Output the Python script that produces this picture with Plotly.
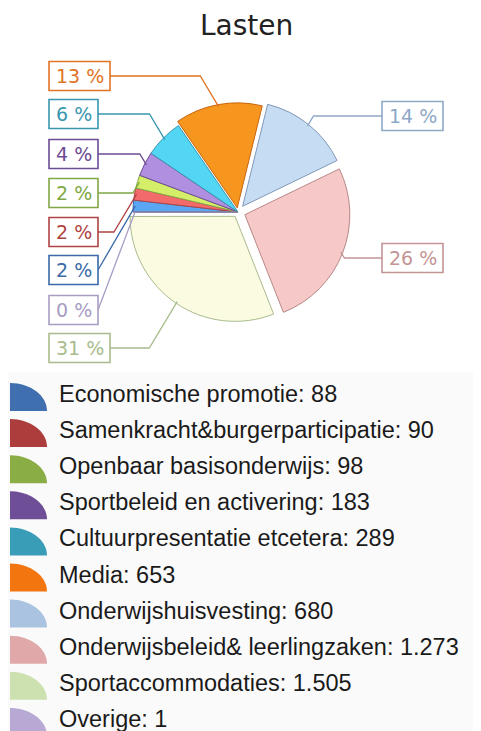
import math
import plotly.graph_objects as go

# ---------------- data ----------------
categories = [
    "Economische promotie",
    "Samenkracht&burgerparticipatie",
    "Openbaar basisonderwijs",
    "Sportbeleid en activering",
    "Cultuurpresentatie etcetera",
    "Media",
    "Onderwijshuisvesting",
    "Onderwijsbeleid& leerlingzaken",
    "Sportaccommodaties",
    "Overige",
]
values = [88, 90, 98, 183, 289, 653, 680, 1273, 1505, 1]

# ---------------- styles ----------------
slice_colors = ["#5aa6f2", "#f26a6a", "#d4ee6a", "#b08ee0", "#52d6f4",
                "#f7961f", "#c6dcf2", "#f6c8c8", "#fbfbe2", "#a49cb8"]
edge_colors = ["#3a6aa8", "#b04444", "#86a84a", "#6c4c94", "#3a96b0",
               "#c8640e", "#7f98b8", "#b88888", "#a8bc8c", "#8a80a0"]
label_colors = ["#3a6aa8", "#b04444", "#80a844", "#6c4c94", "#3a96b0",
                "#e07424", "#8ea8c8", "#c49494", "#a8bc8c", "#a89cc4"]
legend_colors = ["#3f6fae", "#ad3d3d", "#8aad45", "#6e4e96", "#3a9db8",
                 "#f27510", "#a9c3e0", "#e0a8a8", "#cde0b0", "#b8a8d4"]
pulls = [0, 0, 0, 0, 0, 0.04, 0.07, 0.07, 0.05, 0]
# label box placement: side and vertical centre (screen px)
label_side = ["L", "L", "L", "L", "L", "L", "R", "R", "L", "L"]
label_y = [270, 232, 193, 154, 114, 76, 116, 258, 348, 310]

# the page body has an 8px margin: figure is offset by OFF on screen
OFF = 8
W, H = 465, 723
CX, CY, R = 238, 212, 105
ROT = -90  # first slice starts at 9 o'clock, clockwise


def px(x):
    return (x - OFF) / W


def py(y):
    return 1 - (y - OFF) / H


total = sum(values)
maxpull = max(pulls)
half = R * (1 + maxpull)

fig = go.Figure()
fig.add_trace(go.Pie(
    labels=categories,
    values=values,
    sort=False,
    direction="clockwise",
    rotation=ROT,
    pull=pulls,
    textinfo="none",
    hoverinfo="label+value+percent",
    marker=dict(colors=slice_colors, line=dict(color=edge_colors, width=1)),
    domain=dict(x=[px(CX - half), px(CX + half)], y=[py(CY + half), py(CY - half)]),
    showlegend=False,
))

shapes = []
annotations = []

# ---------------- percentage labels with connectors ----------------
cum = 0.0
for i, v in enumerate(values):
    frac = v / total
    mid = math.radians(ROT + 360 * (cum + frac / 2))
    cum += frac
    rr = R * (1 + pulls[i]) - 2
    ax = CX + rr * math.sin(mid)
    ay = CY - rr * math.cos(mid)
    txt = f"{round(100 * frac)} %"
    bw = 12 * len(txt) + 13
    by = label_y[i]
    if label_side[i] == "L":
        bx0 = 49
        bx1 = bx0 + bw
        edge = bx1
        ex = max(edge, ax - 0.6 * abs(ay - by))
    else:
        bx0 = 382
        bx1 = bx0 + bw
        edge = bx0
        ex = min(edge, ax + 0.6 * abs(ay - by))
    col = label_colors[i]
    shapes.append(dict(type="path", xref="paper", yref="paper",
                       path=f"M {px(edge)},{py(by)} L {px(ex)},{py(by)} L {px(ax)},{py(ay)}",
                       line=dict(color=col, width=1.3)))
    shapes.append(dict(type="rect", xref="paper", yref="paper",
                       x0=px(bx0), x1=px(bx1), y0=py(by - 14.5), y1=py(by + 14.5),
                       line=dict(color=col, width=1.6), fillcolor="white"))
    annotations.append(dict(xref="paper", yref="paper", x=px((bx0 + bx1) / 2), y=py(by),
                            text=txt, showarrow=False, xanchor="center", yanchor="middle",
                            font=dict(family="DejaVu Sans", size=19, color=col)))

# ---------------- custom legend ----------------
shapes.append(dict(type="rect", xref="paper", yref="paper", layer="below",
                   x0=px(2), x1=px(481), y0=py(372), y1=py(735),
                   line=dict(width=0), fillcolor="#fafafa"))
k = 0.5523
for i, (name, v) in enumerate(zip(categories, values)):
    b = 411 + 36.1 * i
    x0, rx, ry = 10, 37, 28
    path = (f"M {px(x0)},{py(b)} L {px(x0)},{py(b - ry)} "
            f"C {px(x0 + k * rx)},{py(b - ry)} {px(x0 + rx)},{py(b - k * ry)} {px(x0 + rx)},{py(b)} Z")
    shapes.append(dict(type="path", xref="paper", yref="paper", path=path,
                       fillcolor=legend_colors[i], line=dict(width=0)))
    vtxt = f"{v:,}".replace(",", ".")
    annotations.append(dict(xref="paper", yref="paper", x=px(57), y=py(394 + 36.1 * i),
                            text=f"{name}: {vtxt}", showarrow=False,
                            xanchor="left", yanchor="middle",
                            font=dict(family="Liberation Sans", size=23.5, color="#1a1a1a")))

# ---------------- title ----------------
annotations.append(dict(xref="paper", yref="paper", x=px(246), y=py(25),
                        text="Lasten", showarrow=False, xanchor="center", yanchor="middle",
                        font=dict(family="DejaVu Sans", size=28, color="#222222")))

fig.update_layout(
    width=W, height=H,
    margin=dict(l=0, r=0, t=0, b=0),
    paper_bgcolor="white",
    plot_bgcolor="white",
    shapes=shapes,
    annotations=annotations,
)

fig.write_html("out.html")
